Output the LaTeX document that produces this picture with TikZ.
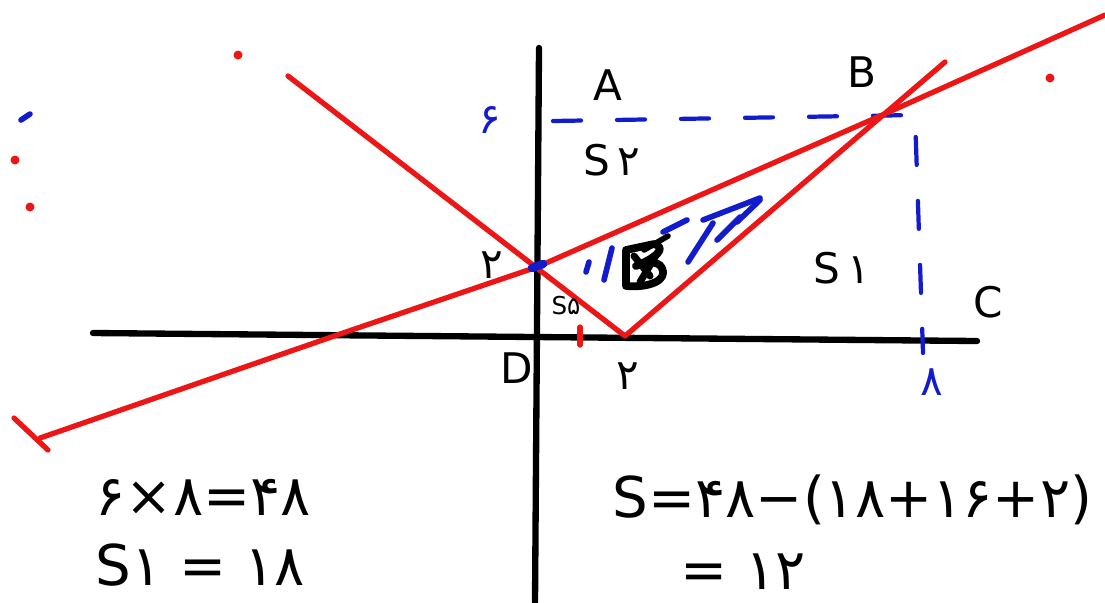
\documentclass[tikz,border=0pt]{standalone}
\usepackage{fontspec}
\setmainfont{DejaVu Sans}
\newfontfamily\fafont[Script=Arabic]{DejaVu Sans}
\newcommand{\fa}[1]{{\fafont #1}}
\definecolor{penred}{RGB}{236,22,22}
\definecolor{penblue}{RGB}{18,28,205}
\begin{document}
\begin{tikzpicture}[
        x=0.1mm, y=-0.1mm,
        axis/.style={line width=1.8pt, line cap=round},
        redline/.style={penred, line width=1.5pt, line cap=round, line join=round},
        guide/.style={penblue, line width=1.2pt, line cap=round, dash pattern=on 2.8mm off 3.6mm},
        scribble/.style={penblue, line width=1.6pt, line cap=round},
        lbl/.style={inner sep=0pt, font=\fontsize{12}{14}\selectfont},
        bluelbl/.style={lbl, text=penblue},
        sum/.style={inner sep=0pt, anchor=west, font=\fontsize{16}{19}\selectfont}
    ]
        \useasboundingbox (0,0) rectangle (1105,602);

        \coordinate (xl) at (93,333);
        \coordinate (xr) at (977,341);
        \coordinate (yt) at (539,48);
        \coordinate (yb) at (535,602);
        \coordinate (lo) at (40,438);
        \coordinate (xc) at (340,334);
        \coordinate (yc) at (537,267);
        \coordinate (B) at (880,116);
        \coordinate (hi) at (1105,15);
        \coordinate (vl) at (288,76);
        \coordinate (vx) at (625,336);
        \coordinate (vr) at (945,62);
        \coordinate (gA) at (553,121);
        \coordinate (gB) at (915,115);
        \coordinate (gC) at (923,353);
        \coordinate (tb1) at (14,418);
        \coordinate (tb2) at (48,450);
        \coordinate (tk1) at (580,327);
        \coordinate (tk2) at (580,345);

        \draw[axis] (xl) -- (xr);
        \draw[axis] (yt) -- (yb);
        \draw[guide] (gA) -- (gB) -- (gC);
        \draw[redline] (lo) -- (xc) -- (yc) -- (B) -- (hi);
        \draw[redline] (vl) -- (vx) -- (vr);
        \draw[redline] (tb1) -- (tb2);
        \draw[redline] (tk1) -- (tk2);
        \foreach \p in {(238,55),(1050,78),(15,160),(30,207)}
            \fill[penred] \p circle (4.5);
        \draw[scribble] (21,120) -- (30,114);
        \draw[penblue, line width=2.4pt, line cap=round] (532,268) -- (543,264);

        \draw[scribble] (586,272) -- (589,262);
        \draw[scribble] (604,280) -- (612,248);
        \draw[scribble] (663,232) -- (687,220);
        \draw[scribble] (688,262) -- (713,223);
        \draw[scribble] (703,220) -- (760,198);
        \draw[scribble] (717,240) -- (740,217);
        \draw[scribble] (737,222) -- (760,200);
        \draw[line width=2.2pt, line cap=round, line join=round] (626,250) -- (626,286)
            .. controls (650,288) and (668,280) .. (662,268)
            .. controls (658,260) and (645,262) .. (636,266)
            .. controls (655,258) and (668,248) .. (654,244) -- (626,250);
        \draw[line width=2pt, line cap=round] (634,256) -- (650,276);
        \draw[line width=2pt, line cap=round] (640,282) -- (658,252);
        \draw[line width=1.6pt, line cap=round] (644,250) -- (668,236);

        \node[lbl] (A) at (608,85) {A};
        \node[lbl] (Bl) at (862,72) {B};
        \node[lbl] (C) at (988,302) {C};
        \node[lbl] (D) at (517,368) {D};
        \node[bluelbl] (ysix) at (490,120) {\fa{۶}};
        \node[lbl] (ytwo) at (492,265) {\fa{۲}};
        \node[lbl] (xtwo) at (628,376) {\fa{۲}};
        \node[bluelbl] (xeight) at (932,382) {\fa{۸}};
        \node[lbl] (stwo) at (612,160) {S\,\fa{۲}};
        \node[lbl] (sone) at (842,268) {S\,\fa{۱}};
        \node[lbl, font=\fontsize{7}{8}\selectfont] (sfive) at (566,306) {S\fa{۵}};

        \node[sum] (rect) at (95,497) {\fa{۶}×\fa{۸}=\fa{۴۸}};
        \node[sum] (sonev) at (95,565) {S\fa{۱} = \fa{۱۸}};
        \node[sum] (stot) at (612,500) {S=\fa{۴۸}−(\fa{۱۸}+\fa{۱۶}+\fa{۲})};
        \node[sum] (res) at (680,572) {= \fa{۱۲}};
    \end{tikzpicture}
\end{document}
